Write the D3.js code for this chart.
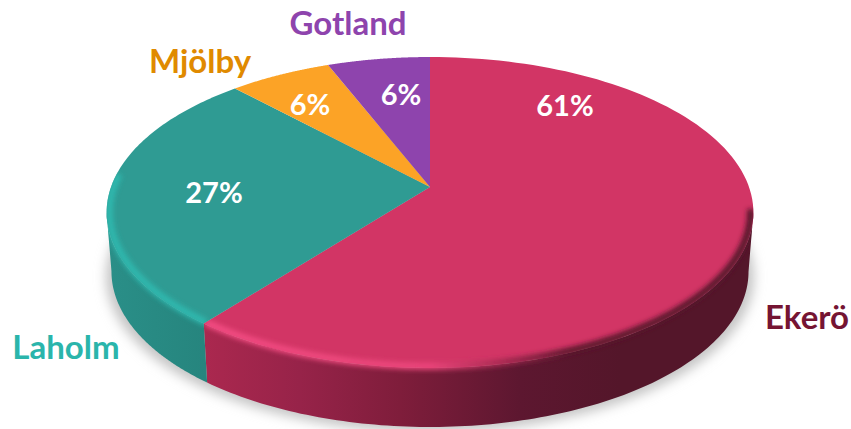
<!DOCTYPE html>
<html>
<head>
    <title>pie</title>
    <script src="https://d3js.org/d3.v7.min.js"></script>
    <style>
        html, body { margin: 0; padding: 0; background: #fff; overflow: hidden; }
        text { font-family: Lato, "Open Sans", sans-serif; font-weight: 700; }
    </style>
</head>
<body>
    <svg id="pie-viz" width="851" height="429"></svg>

    <script>
    // data
    var categories = ["Ekerö", "Laholm", "Mjölby", "Gotland"];
    var values = [60.6, 27.4, 6, 6];
    var faceColors = ["#d23565", "#2f9b93", "#fca326", "#8e44ad"];
    var labelColors = ["#751433", "#2ab5ab", "#e08a00", "#8e44ad"];

    // text placement
    var nameX = [807, 66, 200, 348];
    var nameY = [329, 359, 73, 35];
    var pctX = [565, 214, 310, 401];
    var pctY = [116, 203, 115, 105];

    var svg = d3.select("#pie-viz");
    var defs = svg.append("defs");

    // perspective of the disc: apex, back and front edge
    var apexX = 430, apexY = 187, tilt = 0.164;
    var spanX = d3.scaleLinear().domain([-1, 1]).range([apexX - 319, apexX + 319]);
    var spanY = d3.scaleLinear().domain([-1, 1]).range([apexY + 151.3, apexY - 151.3]);
    var depth = 59;
    var bottomShrink = 0.985;

    function project(angle, r, drop, shrink) {
        var u = r * Math.sin(angle), v = r * Math.cos(angle);
        var w = 1 + tilt * v;
        var x = spanX(u / w), y = spanY(v / w);
        if (drop) {
            x = apexX + (x - apexX) * shrink;
            y = y + drop;
        }
        return [x, y];
    }

    function arcAngles(a0, a1) {
        return d3.range(0, 121).map(function(i) { return a0 + (a1 - a0) * i / 120; });
    }

    var line = d3.line();
    var arcs = d3.pie().sort(null)(values);

    function facePath(d) {
        var pts = arcAngles(d.startAngle, d.endAngle).map(function(a) { return project(a, 1); });
        pts.push([apexX, apexY]);
        return line(pts) + "Z";
    }

    // side is only visible between the two widest points of the disc
    var sideStart = Math.PI - Math.acos(tilt);
    var sideEnd = Math.PI + Math.acos(tilt);

    function sidePath(d) {
        var a0 = Math.max(d.startAngle, sideStart), a1 = Math.min(d.endAngle, sideEnd);
        if (a1 <= a0) return null;
        var ang = arcAngles(a0, a1);
        var top = ang.map(function(a) { return project(a, 1); });
        var bottom = ang.map(function(a) { return project(a, 1, depth, bottomShrink); }).reverse();
        return line(top.concat(bottom)) + "Z";
    }

    function gradient(id, stops) {
        var g = defs.append("linearGradient").attr("id", id)
            .attr("gradientUnits", "userSpaceOnUse")
            .attr("x1", 100).attr("x2", 760).attr("y1", 0).attr("y2", 0);
        stops.forEach(function(s) {
            g.append("stop").attr("offset", (s[0] - 100) / 660).attr("stop-color", s[1]);
        });
    }

    gradient("side-0", [[203, "#ab284f"], [300, "#972349"], [400, "#7f1d3b"], [520, "#5d1730"], [620, "#54162a"]]);
    gradient("side-1", [[105, "#2a8f88"], [205, "#26857e"]]);
    gradient("rim-0", [[203, "#f24c82"], [430, "#ea457a"], [500, "#a82a52"], [570, "#5a172c"], [760, "#54162a"]]);
    gradient("rim-1", [[105, "#2fb8ae"], [205, "#2fb8ae"]]);

    var blur = defs.append("filter").attr("id", "rim-blur")
        .attr("x", "-10%").attr("y", "-10%").attr("width", "120%").attr("height", "120%");
    blur.append("feGaussianBlur").attr("stdDeviation", 2.5);

    var soft = defs.append("filter").attr("id", "shadow-blur")
        .attr("x", "-10%").attr("y", "-10%").attr("width", "120%").attr("height", "130%");
    soft.append("feGaussianBlur").attr("stdDeviation", 6);

    // shadow under the disc
    var wholeAngles = arcAngles(0, 2 * Math.PI);
    svg.append("path")
        .attr("d", line(wholeAngles.map(function(a) { return project(a, 1, depth + 5, 1.002); })) + "Z")
        .attr("fill", "#c4c4c4")
        .attr("filter", "url(#shadow-blur)");

    var chart = svg.append("g");

    arcs.forEach(function(d, i) {
        var side = sidePath(d);
        if (side) {
            chart.append("path").attr("d", side).attr("fill", "url(#side-" + i + ")");
        }
    });

    chart.selectAll("path.face")
        .data(arcs)
        .enter().append("path")
        .attr("class", "face")
        .attr("d", facePath)
        .attr("fill", function(d, i) { return faceColors[i]; });

    // soft bevel along the front rim
    arcs.forEach(function(d, i) {
        var side = sidePath(d);
        if (!side) return;
        defs.append("clipPath").attr("id", "clip-" + i)
            .append("path").attr("d", facePath(d) + side);
        var a0 = Math.max(d.startAngle, sideStart - 0.02), a1 = Math.min(d.endAngle, sideEnd + 0.25);
        var pts = arcAngles(a0, a1).map(function(a) { return project(a, 0.992); });
        chart.append("g").attr("clip-path", "url(#clip-" + i + ")")
            .append("path")
            .attr("d", line(pts))
            .attr("fill", "none")
            .attr("stroke", "url(#rim-" + i + ")")
            .attr("stroke-width", 7)
            .attr("filter", "url(#rim-blur)");
    });

    // labels
    svg.selectAll("text.name")
        .data(categories)
        .enter().append("text")
        .attr("class", "name")
        .attr("x", function(d, i) { return nameX[i]; })
        .attr("y", function(d, i) { return nameY[i]; })
        .attr("text-anchor", "middle")
        .attr("font-size", 33)
        .attr("fill", function(d, i) { return labelColors[i]; })
        .text(function(d) { return d; });

    svg.selectAll("text.pct")
        .data(values)
        .enter().append("text")
        .attr("class", "pct")
        .attr("x", function(d, i) { return pctX[i]; })
        .attr("y", function(d, i) { return pctY[i]; })
        .attr("text-anchor", "middle")
        .attr("font-size", 29)
        .attr("fill", "#fff")
        .text(function(d) { return d3.format(".0f")(d) + "%"; });
    </script>
</body>
</html>
